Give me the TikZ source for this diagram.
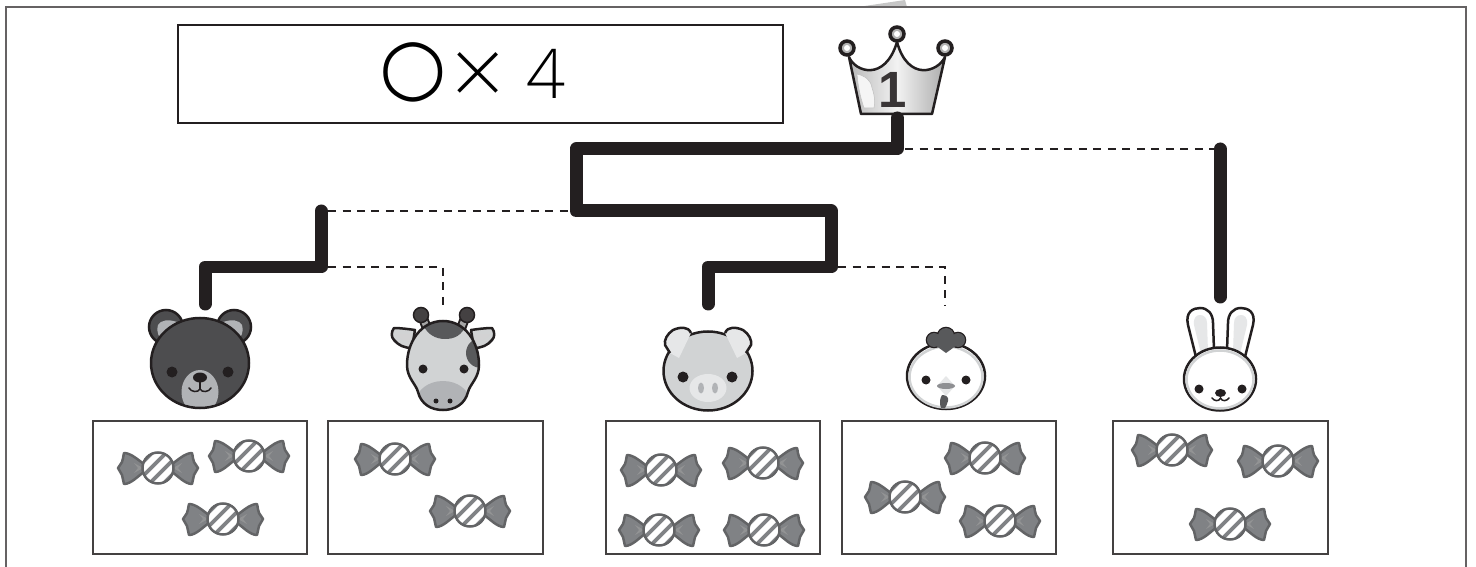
\documentclass[tikz,border=0pt]{standalone}
\usepackage{fontspec}
\setmainfont{Open Sans Light}
\newfontfamily\crownfont{Liberation Sans}
\newfontfamily\ringfont{DejaVu Sans}
\definecolor{inkdark}{HTML}{231F20}
\definecolor{beargray}{HTML}{4D4D4F}
\definecolor{candygray}{HTML}{808285}
\definecolor{candyedge}{HTML}{636466}
\definecolor{midgray}{HTML}{58595B}
\definecolor{softgray}{HTML}{D1D3D4}
\definecolor{palegray}{HTML}{E6E7E8}
\definecolor{muzzlegray}{HTML}{B1B3B6}
\tikzset{
  route/.style={inkdark,line width=.26cm,line join=round,line cap=round},
  dashroute/.style={inkdark,line width=.055cm,dash pattern=on .16cm off .13cm},
  sweetbox/.style={draw=inkdark!85,line width=.04cm,fill=white},
  outline/.style={draw=inkdark,line width=.05cm},
  wing/.style={candygray,draw=candyedge,line width=.05cm,line join=round},
  candy/.pic={
    \fill [wing] (14,-4) .. controls (20,-8) and (27,-15) .. (34,-15) .. controls (35,-11) and (35,-8) .. (36,-6) -- (40,0) -- (36,7) .. controls (35,10) and (35,13) .. (34,16) .. controls (27,16) and (20,8) .. (14,4) -- cycle;
    \fill [wing] (-14,-4) .. controls (-20,-8) and (-27,-15) .. (-34,-15) .. controls (-35,-11) and (-35,-8) .. (-36,-6) -- (-40,0) -- (-36,7) .. controls (-35,10) and (-35,13) .. (-34,16) .. controls (-27,16) and (-20,8) .. (-14,4) -- cycle;
    \fill [candyedge!70] (15,0) -- (24,-5) -- (20,0) -- (24,5) -- cycle;
    \fill [candyedge!70] (-15,0) -- (-24,-5) -- (-20,0) -- (-24,5) -- cycle;
    \begin{scope}
      \clip (0,0) circle (15.5);
      \fill [candygray] (-16,-16) rectangle (16,16);
      \foreach \d in {-14,0,14}
        \draw [white,line width=.115cm] (\d-16,16) -- (\d+16,-16);
    \end{scope}
    \draw [candyedge,line width=.05cm] (0,0) circle (15.5);
  },
  crownball/.pic={
    \fill [gray!60,draw=inkdark,line width=.07cm] (0,0) circle (7);
    \fill [white] (0,0) circle (3);
  }
}
\begin{document}
\begin{tikzpicture}[x=.02cm,y=-.02cm]
  \useasboundingbox (0,0) rectangle (1476,567);
  \fill [gray!45] (858,7) -- (905,0) -- (907,7) -- cycle;
  \draw [inkdark!70,line width=.04cm] (6,567) -- (6,7) -- (1466,7) -- (1466,567);
  \node [draw=inkdark,line width=.05cm,minimum width=12.1cm,minimum height=1.96cm,inner sep=0pt] (formula) at (480.5,74) {};
  \node [inner sep=0pt,anchor=base west] (formulatext) at (379.6,99) {\raisebox{.12cm}{\ringfont\fontsize{44}{44}\selectfont ○}\hspace{.11cm}\raisebox{-.11cm}{\fontsize{51}{51}\selectfont ×}\hspace{.44cm}{\fontsize{39}{39}\selectfont 4}};

  \fill [left color=gray!55,right color=gray!65,middle color=gray!10,draw=inkdark,line width=.05cm,line join=round] (861,114) -- (849,57) .. controls (855,72) and (885,82) .. (897,42) .. controls (908,82) and (938,72) .. (945,57) -- (932,114) -- cycle;
  \fill [gray!8,draw=gray!50,line width=.01cm] (857,74) .. controls (865,76) and (871,80) .. (872,88) .. controls (875,96) and (875,104) .. (874,108) -- (864,108) .. controls (860,96) and (858,86) .. (857,74) -- cycle;
  \pic at (847,48) {crownball};
  \pic at (897,34) {crownball};
  \pic at (945,48) {crownball};
  \node [inner sep=0pt,text=inkdark!90] (rank) at (893,90) {\fontsize{29}{29}\selectfont\crownfont\bfseries 1};

  \coordinate (crownfoot) at (897,118);
  \coordinate (split) at (897,149);
  \coordinate (topturn) at (576,149);
  \coordinate (midturn) at (576,211);
  \coordinate (midright) at (831,211);
  \coordinate (lowright) at (831,267);
  \coordinate (lowleft) at (708,267);
  \coordinate (pigend) at (708,304);
  \coordinate (bearstart) at (321,211);
  \coordinate (bearturn) at (321,267);
  \coordinate (bearleft) at (205,267);
  \coordinate (bearend) at (205,304);
  \coordinate (rabbitstart) at (1220,149);
  \coordinate (rabbitend) at (1220,297);
  \coordinate (giraffeturn) at (443,267);
  \coordinate (giraffeend) at (443,305);
  \coordinate (chickturn) at (945,267);
  \coordinate (chickend) at (945,305);

  \draw [route] (crownfoot) -- (split) -- (topturn) -- (midturn) -- (midright) -- (lowright) -- (lowleft) -- (pigend);
  \draw [route] (bearstart) -- (bearturn) -- (bearleft) -- (bearend);
  \draw [route] (rabbitstart) -- (rabbitend);
  \draw [dashroute] (split) ++(8,0) -- (rabbitstart);
  \draw [dashroute] (bearstart) ++(7,0) -- (midturn);
  \draw [dashroute] (bearturn) ++(7,0) -- (giraffeturn) -- (giraffeend);
  \draw [dashroute] (lowright) ++(7,0) -- (chickturn) -- (chickend);

  \foreach \boxname/\cx in {boxbear/200,boxgiraffe/435.5,boxpig/713,boxchick/949,boxrabbit/1220.5}
    \node [sweetbox,minimum width=4.3cm,minimum height=2.66cm,inner sep=0pt] (\boxname) at (\cx,487.5) {};
  \foreach \px/\py in {158/468,249/456,223/519,395/459,470/511,661/470,763/463,659/530,764/530,905/497,985/458,1000/521,1172/450,1278/461,1230/524}
    \pic at (\px,\py) {candy};

  \fill [beargray,outline] (166,327) circle (17);
  \fill [beargray,outline] (234,327) circle (17);
  \fill [muzzlegray] (158,325) .. controls (161,320) and (168,319) .. (177,322) .. controls (170,325) and (164,331) .. (160,338) .. controls (157,333) and (157,329) .. (158,325) -- cycle;
  \fill [muzzlegray] (242,325) .. controls (239,320) and (232,319) .. (223,322) .. controls (230,325) and (236,331) .. (240,338) .. controls (243,333) and (243,329) .. (242,325) -- cycle;
  \begin{scope}
    \clip (200,363) ellipse (49 and 45);
    \fill [beargray] (151,318) rectangle (249,408);
    \fill [muzzlegray] (200,392) ellipse (18.5 and 22);
  \end{scope}
  \draw [outline] (200,363) ellipse (49 and 45);
  \fill [inkdark] (172,372) circle (5.5);
  \fill [inkdark] (228,372) circle (5.5);
  \fill [inkdark] (200,377.5) ellipse (7 and 5);
  \draw [inkdark,line width=.03cm,line cap=round] (189,388) .. controls (191,392) and (198,393) .. (200,389) .. controls (202,393) and (209,392) .. (211,388);
  \draw [inkdark,line width=.03cm] (200,380) -- (200,389);

  \draw [inkdark,line width=.2cm] (423,318) -- (429,334);
  \draw [inkdark,line width=.2cm] (465,318) -- (459,334);
  \draw [gray!70,line width=.12cm] (423,318) -- (429,334);
  \draw [gray!70,line width=.12cm] (465,318) -- (459,334);
  \fill [inkdark!85,draw=inkdark,line width=.03cm] (421,315) circle (7.5);
  \fill [inkdark!85,draw=inkdark,line width=.03cm] (467,315) circle (7.5);
  \fill [softgray,outline,line join=round] (415,330) .. controls (408,329) and (400,328) .. (394,328) .. controls (391,332) and (391,337) .. (394,340) .. controls (398,345) and (404,348) .. (412,348) -- cycle;
  \fill [softgray,outline,line join=round] (471,330) .. controls (478,329) and (486,328) .. (492,328) .. controls (495,332) and (495,337) .. (492,340) .. controls (488,345) and (482,348) .. (474,348) -- cycle;
  \fill [palegray!80!gray] (396,334) -- (412,334) -- (410,342) .. controls (404,341) and (399,338) .. (396,334) -- cycle;
  \fill [palegray!80!gray] (490,334) -- (474,334) -- (476,342) .. controls (482,341) and (487,338) .. (490,334) -- cycle;
  \begin{scope}
    \clip (443,321) .. controls (465,321) and (479,342) .. (479,365) .. controls (479,378) and (470,384) .. (468,392) .. controls (465,404) and (455,410) .. (443,410) .. controls (431,410) and (421,404) .. (418,392) .. controls (416,384) and (407,378) .. (407,365) .. controls (407,342) and (421,321) .. (443,321) -- cycle;
    \fill [softgray] (400,320) rectangle (486,412);
    \fill [midgray] (423,325) .. controls (428,335) and (436,339) .. (445,339) .. controls (455,339) and (462,335) .. (466,325) -- (460,315) -- (425,315) -- cycle;
    \fill [midgray] (481,353) circle (15);
    \fill [muzzlegray] (443,402) ellipse (27 and 21);
  \end{scope}
  \draw [outline] (443,321) .. controls (465,321) and (479,342) .. (479,365) .. controls (479,378) and (470,384) .. (468,392) .. controls (465,404) and (455,410) .. (443,410) .. controls (431,410) and (421,404) .. (418,392) .. controls (416,384) and (407,378) .. (407,365) .. controls (407,342) and (421,321) .. (443,321) -- cycle;
  \fill [inkdark] (423,369) circle (4.5);
  \fill [inkdark] (464,369) circle (4.5);
  \fill [inkdark] (436,401) circle (2.5);
  \fill [inkdark] (450,401) circle (2.5);

  \begin{scope}
    \clip (708,371) ellipse (44.5 and 39.5);
    \fill [softgray] (660,330) rectangle (756,412);
    \fill [palegray] (708,388) ellipse (18.5 and 14);
    \fill [muzzlegray] (701,388) ellipse (3 and 5.5);
    \fill [muzzlegray] (715,388) ellipse (3 and 5.5);
  \end{scope}
  \draw [outline] (708,371) ellipse (44.5 and 39.5);
  \fill [palegray] (691,333) .. controls (688,326) and (680,327) .. (673,330) .. controls (667,334) and (664,340) .. (665,345) -- (670,353) -- (679,358) -- cycle;
  \fill [palegray] (725,333) .. controls (728,326) and (736,327) .. (743,330) .. controls (749,334) and (752,340) .. (751,345) -- (746,353) -- (737,358) -- cycle;
  \draw [outline,line join=round] (691,333) .. controls (688,326) and (680,327) .. (673,330) .. controls (667,334) and (664,340) .. (665,345) -- (670,353);
  \draw [outline,line join=round] (725,333) .. controls (728,326) and (736,327) .. (743,330) .. controls (749,334) and (752,340) .. (751,345) -- (746,353);
  \fill [inkdark] (683,377) circle (5.5);
  \fill [inkdark] (732,377) circle (5.5);

  \fill [white,outline] (946,376) ellipse (39 and 33);
  \draw [softgray,line width=.05cm] (946,377) ellipse (36.5 and 30.5);
  \draw [inkdark,line width=.05cm] (946,336) circle (8) (934,340) circle (7) (958,340) circle (7);
  \fill [midgray] (946,336) circle (8) (934,340) circle (7) (958,340) circle (7);
  \fill [midgray] (928,340) -- (964,340) -- (946,353) -- cycle;
  \fill [inkdark] (926,380) circle (4.5);
  \fill [inkdark] (966,380) circle (4.5);
  \fill [palegray] (946,376) -- (955,386) -- (946,396) -- (937,386) -- cycle;
  \fill [muzzlegray!80!black] (946,386) ellipse (9 and 3);
  \fill [midgray] (942,395) .. controls (946,395) and (949,397) .. (948,401) .. controls (947,404) and (946,407) .. (945,408) -- (941,408) .. controls (939,403) and (940,398) .. (942,395) -- cycle;

  \fill [white,outline] (1196,357) -- (1188,325) .. controls (1185,312) and (1193,308) .. (1200,308) .. controls (1208,308) and (1213,314) .. (1213,323) -- (1214,350) -- cycle;
  \fill [white,outline] (1245,357) -- (1253,325) .. controls (1256,312) and (1248,308) .. (1241,308) .. controls (1233,308) and (1228,314) .. (1228,323) -- (1227,350) -- cycle;
  \fill [palegray] (1201,354) -- (1194,325) .. controls (1193,317) and (1197,315) .. (1200,315) .. controls (1204,315) and (1207,318) .. (1207,323) -- (1208,352) -- cycle;
  \fill [palegray] (1240,354) -- (1247,325) .. controls (1248,317) and (1244,315) .. (1241,315) .. controls (1237,315) and (1234,318) .. (1234,323) -- (1233,352) -- cycle;
  \fill [white,outline] (1220,379) ellipse (36 and 31.5);
  \draw [softgray,line width=.05cm] (1220,379.5) ellipse (33.5 and 29);
  \fill [inkdark] (1199,389) circle (4.5);
  \fill [inkdark] (1242,389) circle (4.5);
  \fill [inkdark] (1220.5,393) ellipse (5.5 and 4);
  \draw [inkdark,line width=.03cm,line cap=round] (1212,398) .. controls (1214,401) and (1219,402) .. (1220.5,398) .. controls (1222,402) and (1227,401) .. (1229,398);
\end{tikzpicture}
\end{document}
